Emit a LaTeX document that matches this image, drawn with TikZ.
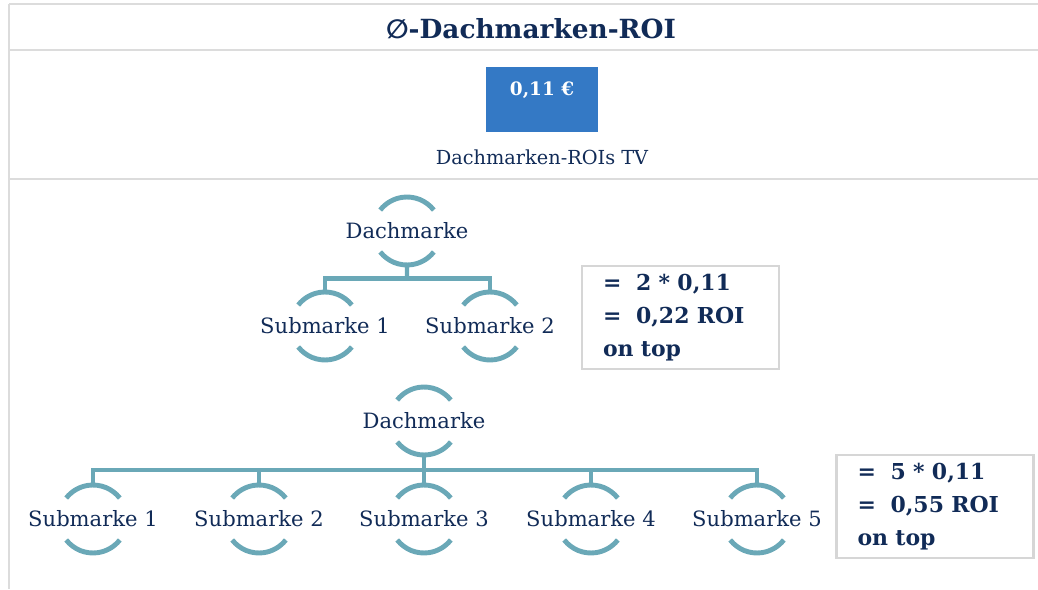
\documentclass[tikz,border=0pt]{standalone}
\usepackage{fontspec}
\setmainfont{DejaVu Serif}
\newfontfamily\symfont{DejaVu Sans}
\usetikzlibrary{positioning, calc}

\definecolor{navy}{HTML}{112B57}
\definecolor{ringteal}{HTML}{6AA8B7}
\definecolor{roiblue}{HTML}{3479C5}
\definecolor{rulegray}{HTML}{DCDCDC}
\definecolor{boxgray}{HTML}{D6D6D6}

\begin{document}
\begin{tikzpicture}[
    x=0.02cm, y=0.02cm,
    rule/.style={draw=rulegray, line width=1.1pt},
    brand/.style={text=navy, inner sep=0pt, font=\fontsize{12}{14}\selectfont},
    ring/.style={draw=ringteal, line width=2.8pt},
    link/.style={draw=ringteal, line width=2.4pt},
    roibox/.style={fill=roiblue, minimum width=2.24cm, minimum height=1.3cm, inner sep=0pt},
    sumbox/.style={draw=boxgray, line width=1.2pt, text=navy, align=left,
        font=\bfseries\fontsize{12.5}{18.7}\selectfont, text width=3.1cm,
        inner xsep=0.42cm, minimum width=3.94cm, minimum height=2.06cm}
]
    \useasboundingbox (0,0) rectangle (1038,589);

    % table rules
    \draw[rule] (9,585) -- (1038,585);
    \draw[rule] (9,539) -- (1038,539);
    \draw[rule] (9,410) -- (1038,410);
    \draw[rule] (9,585) -- (9,0);

    % heading and average value
    \node[text=navy, font=\bfseries\fontsize{15}{18}\selectfont] (title) at (531,560) {{\symfont ∅}-Dachmarken-ROI};
    \node[roibox] (roi) at (542,489.5) {};
    \node[text=white, inner sep=0pt, font=\bfseries\fontsize{10.5}{12}\selectfont, below=0.3cm of roi.north] (roival) {0,11 €};
    \node[brand, font=\fontsize{11}{13}\selectfont, below=0.34cm of roi] (roitv) {Dachmarken-ROIs TV};

    % first tree: two submarken
    \node[brand] (d1) at (407,358) {Dachmarke};
    \node[brand] (s11) at (325,263) {Submarke 1};
    \node[brand] (s12) at (490,263) {Submarke 2};

    % second tree: five submarken
    \node[brand] (d2) at (424,168) {Dachmarke};
    \node[brand] (s21) at (93,70) {Submarke 1};
    \node[brand] (s22) at (259,70) {Submarke 2};
    \node[brand] (s23) at (424,70) {Submarke 3};
    \node[brand] (s24) at (591,70) {Submarke 4};
    \node[brand] (s25) at (757,70) {Submarke 5};

    % half circles round every label
    \foreach \n in {d1,s11,s12,d2,s21,s22,s23,s24,s25} {
        \draw[ring] ([shift={(38:0.68cm)}]\n.center) arc (38:142:0.68cm);
        \draw[ring] ([shift={(218:0.68cm)}]\n.center) arc (218:322:0.68cm);
    }

    % branches
    \coordinate (bar1) at ($(d1.center)!0.5!(d1.center |- s11.center)$);
    \draw[link] ([yshift=-0.68cm]d1.center) -- (bar1);
    \draw[link] ([yshift=0.68cm]s11.center) |- (bar1) -| ([yshift=0.68cm]s12.center);

    \coordinate (bar2) at ($(d2.center)!0.5!(s23.center)$);
    \draw[link] ([yshift=-0.68cm]d2.center) -- ([yshift=0.68cm]s23.center);
    \draw[link] ([yshift=0.68cm]s21.center) |- (bar2) -| ([yshift=0.68cm]s25.center);
    \foreach \n in {s22,s24}
        \draw[link] ([yshift=0.68cm]\n.center) -- (\n.center |- bar2);

    % results
    \node[sumbox] (sum1) at (680.5,271.5) {=\ \ 2 * 0,11\\=\ \ 0,22 ROI\\on top};
    \node[sumbox] (sum2) at (935,82.5) {=\ \ 5 * 0,11\\=\ \ 0,55 ROI\\on top};
\end{tikzpicture}
\end{document}
